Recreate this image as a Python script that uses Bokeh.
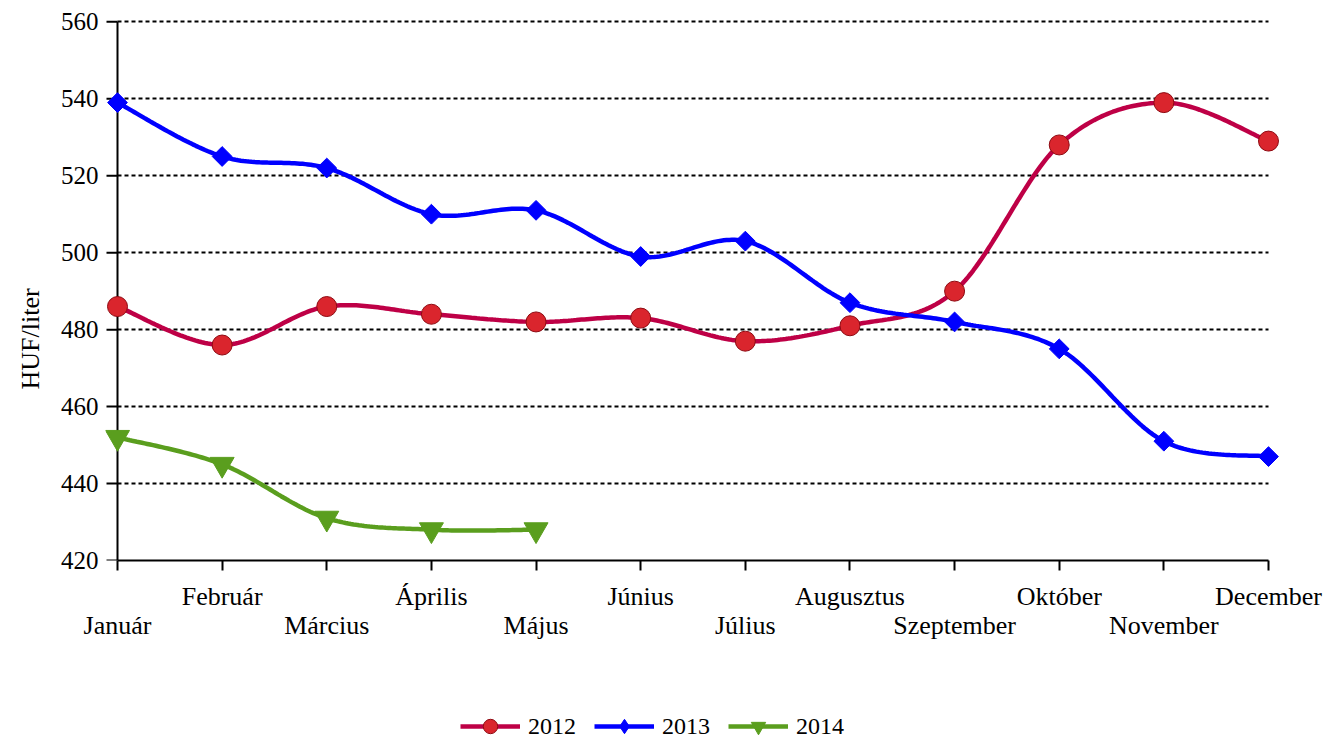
import numpy as np
from bokeh.plotting import figure
from bokeh.layouts import column
from bokeh.models import Range1d, FixedTicker, LinearAxis, Legend, LegendItem, Title
from bokeh.embed import file_html
from bokeh.resources import INLINE

# ---- data ----
months = ["Január", "Február", "Március", "Április", "Május", "Június",
          "Július", "Augusztus", "Szeptember", "Október", "November", "December"]
v2012 = [486, 476, 486, 484, 482, 483, 477, 481, 490, 528, 539, 529]
v2013 = [539, 525, 522, 510, 511, 499, 503, 487, 482, 475, 451, 447]
v2014 = [452, 445, 431, 428, 428]
y_ticks = [420, 440, 460, 480, 500, 520, 540, 560]
y_label = "HUF/liter"
series_names = ["2012", "2013", "2014"]

FONT = "Liberation Serif"
C2012 = "#BE0046"
C2013 = "#0000FF"
C2014 = "#5A9E1E"
LW = 4.5


def smooth(ys, n=40):
    """Excel-like smoothed line (Catmull-Rom Bezier) through the data points."""
    xs = np.arange(len(ys), dtype=float)
    P = np.column_stack([xs, np.asarray(ys, dtype=float)])
    m = len(P)
    out = []
    t = np.linspace(0, 1, n)[:, None]
    for i in range(m - 1):
        p0 = P[max(i - 1, 0)]
        p1 = P[i]
        p2 = P[i + 1]
        p3 = P[min(i + 2, m - 1)]
        c1 = p1 + (p2 - p0) / 6.0
        c2 = p2 - (p3 - p1) / 6.0
        seg = (1 - t) ** 3 * p1 + 3 * (1 - t) ** 2 * t * c1 + 3 * (1 - t) * t ** 2 * c2 + t ** 3 * p2
        out.append(seg if i == 0 else seg[1:])
    arr = np.vstack(out)
    return arr[:, 0], arr[:, 1]


p = figure(width=1325, height=687, output_backend="svg", toolbar_location=None,
           x_range=Range1d(-0.1147, 11.1147), y_range=Range1d(420, 560.6),
           min_border_left=105, min_border_right=45, min_border_top=19, min_border_bottom=127)
p.outline_line_color = None
p.background_fill_color = "white"
p.border_fill_color = "white"

# grid
p.xgrid.visible = False
p.ygrid.ticker = FixedTicker(ticks=y_ticks[1:])
p.ygrid.cross_bounds = (0, 11)
p.ygrid.grid_line_color = "black"
p.ygrid.grid_line_dash = "4 3"
p.ygrid.grid_line_width = 2

# y axis: labels from the axis, line and ticks drawn at the first category
yax = p.yaxis[0]
yax.ticker = FixedTicker(ticks=y_ticks)
yax.axis_line_color = None
yax.major_tick_line_color = None
yax.minor_tick_line_color = None
yax.major_tick_out = 0
yax.major_tick_in = 0
yax.major_label_standoff = 7
yax.major_label_text_font = FONT
yax.major_label_text_font_size = "25px"
yax.major_label_text_color = "black"

p.segment(x0=[0], y0=[y_ticks[0]], x1=[0], y1=[y_ticks[-1]], line_color="black", line_width=2)
p.ray(x=[0] * len(y_ticks), y=y_ticks, length=11, length_units="screen", angle=np.pi,
      line_color="black", line_width=2)

# x axis (upper row of labels)
xax = p.xaxis[0]
xax.ticker = FixedTicker(ticks=list(range(len(months))))
xax.bounds = (0, 11)
xax.axis_line_color = "black"
xax.axis_line_width = 2
xax.major_tick_line_color = "black"
xax.major_tick_line_width = 2
xax.major_tick_out = 10
xax.major_tick_in = 0
xax.minor_tick_line_color = None
xax.major_label_standoff = 11
xax.major_label_text_font = FONT
xax.major_label_text_font_size = "26px"
xax.major_label_text_color = "black"
xax.major_label_overrides = {i: (m if i % 2 == 1 else "") for i, m in enumerate(months)}

# second x axis (lower row of labels)
ax2 = LinearAxis(ticker=FixedTicker(ticks=list(range(len(months)))), bounds=(0, 11))
ax2.axis_line_color = None
ax2.major_tick_line_color = None
ax2.minor_tick_line_color = None
ax2.major_tick_out = 0
ax2.major_tick_in = 0
ax2.major_label_standoff = -3
ax2.major_label_text_font = FONT
ax2.major_label_text_font_size = "26px"
ax2.major_label_text_color = "black"
ax2.major_label_overrides = {i: (m if i % 2 == 0 else "") for i, m in enumerate(months)}
p.add_layout(ax2, "below")

# y axis title
p.add_layout(Title(text=y_label, align="left", offset=171, text_font=FONT, text_font_size="26px",
                   text_font_style="normal", text_color="black", standoff=26), "left")

# series
s12x, s12y = smooth(v2012)
s13x, s13y = smooth(v2013)
s14x, s14y = smooth(v2014)
x12 = list(range(len(v2012)))
x13 = list(range(len(v2013)))
x14 = list(range(len(v2014)))

STY = {
    "2012": dict(line=dict(line_color=C2012, line_width=LW),
                 mark=dict(marker="circle", size=20, fill_color="#DA252D",
                           line_color="#8E0A12", line_width=1),
                 leg=dict(marker="circle", size=20, fill_color="#DA252D",
                          line_color="#8E0A12", line_width=1)),
    "2013": dict(line=dict(line_color=C2013, line_width=LW),
                 mark=dict(marker="square", angle=np.pi / 4, size=14,
                           fill_color=C2013, line_color=C2013),
                 leg=dict(marker="diamond", size=20,
                          fill_color=C2013, line_color=C2013)),
    "2014": dict(line=dict(line_color=C2014, line_width=LW),
                 mark=dict(marker="inverted_triangle", size=24,
                           fill_color=C2014, line_color=C2014),
                 leg=dict(marker="inverted_triangle", size=24,
                          fill_color=C2014, line_color=C2014)),
}
series = [("2012", s12x, s12y, x12, v2012),
          ("2013", s13x, s13y, x13, v2013),
          ("2014", s14x, s14y, x14, v2014)]

for name, lx, ly, mx, my in series:
    p.line(lx, ly, **STY[name]["line"])
    p.scatter(mx, my, **STY[name]["mark"])

# legend strip (separate small figure below the chart)
p2 = figure(width=1325, height=50, output_backend="svg", toolbar_location=None,
            x_range=Range1d(0, 1), y_range=Range1d(0, 1),
            min_border_left=0, min_border_right=0, min_border_top=0, min_border_bottom=0)
p2.axis.visible = False
p2.grid.visible = False
p2.outline_line_color = None
p2.background_fill_color = "white"
p2.border_fill_color = "white"

items = []
for name, lx, ly, mx, my in series:
    r1 = p2.line(lx, ly, **STY[name]["line"])
    r2 = p2.scatter(mx, my, **STY[name]["leg"])
    items.append(LegendItem(label=name, renderers=[r1, r2]))

legend = Legend(items=items, location=(355, -7), orientation="horizontal",
                glyph_width=60, glyph_height=36, label_standoff=8, spacing=18,
                padding=0, margin=0, border_line_color=None, background_fill_alpha=0,
                label_text_font=FONT, label_text_font_size="24px", label_text_color="black")
p2.add_layout(legend)

layout = column(p, p2, spacing=0)
open("out.html", "w").write(file_html(layout, INLINE))
